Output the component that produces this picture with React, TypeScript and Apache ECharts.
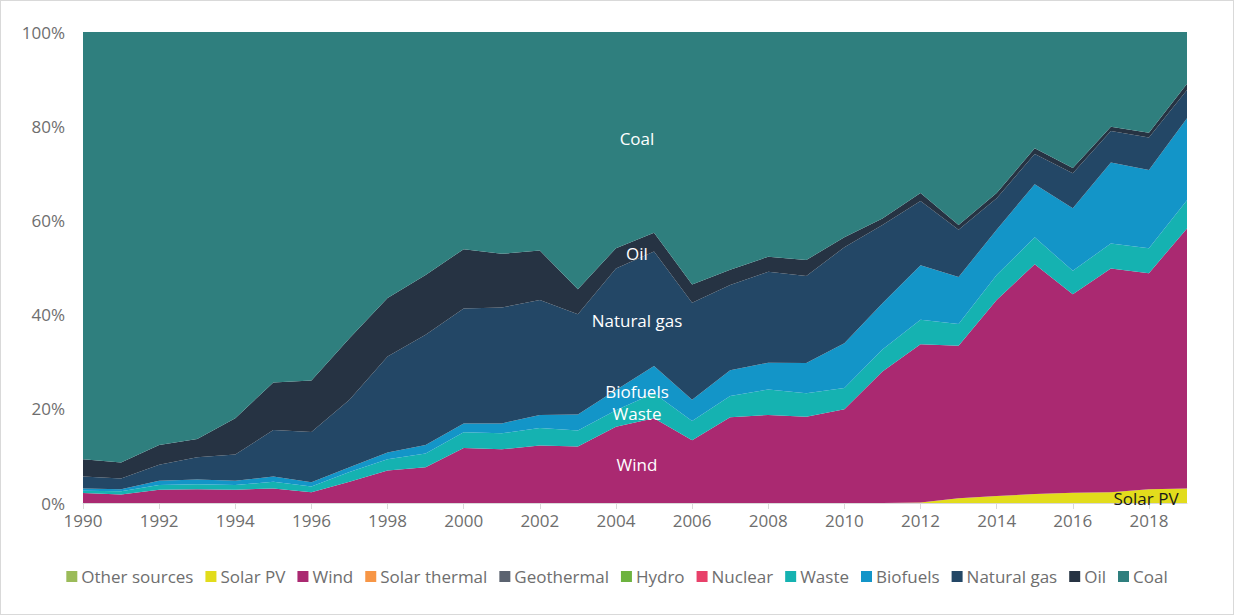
import React, { useEffect, useRef } from "react";
import * as echarts from "echarts";

const years = [
  "1990", "1991", "1992", "1993", "1994", "1995", "1996", "1997", "1998", "1999",
  "2000", "2001", "2002", "2003", "2004", "2005", "2006", "2007", "2008", "2009",
  "2010", "2011", "2012", "2013", "2014", "2015", "2016", "2017", "2018", "2019",
];

// shares of electricity generation (%)
const otherSources = [0, 0, 0, 0, 0, 0, 0, 0, 0, 0, 0, 0, 0, 0, 0, 0, 0, 0, 0, 0, 0, 0, 0, 0, 0, 0, 0, 0, 0, 0];
const solarPV = [0, 0, 0, 0, 0, 0, 0, 0, 0, 0, 0, 0, 0, 0, 0, 0, 0, 0, 0, 0, 0, 0, 0.1, 1.0, 1.5, 1.9, 2.2, 2.3, 2.9, 3.1];
const wind = [2.1, 1.8, 2.8, 2.9, 2.8, 3.1, 2.3, 4.5, 6.9, 7.6, 11.7, 11.4, 12.2, 12.0, 16.2, 18.0, 13.3, 18.2, 18.7, 18.3, 19.9, 27.9, 33.6, 32.4, 41.6, 48.8, 42.1, 47.5, 45.9, 55.2];
const solarThermal = [0, 0, 0, 0, 0, 0, 0, 0, 0, 0, 0, 0, 0, 0, 0, 0, 0, 0, 0, 0, 0, 0, 0, 0, 0, 0, 0, 0, 0, 0];
const geothermal = [0, 0, 0, 0, 0, 0, 0, 0, 0, 0, 0, 0, 0, 0, 0, 0, 0, 0, 0, 0, 0, 0, 0, 0, 0, 0, 0, 0, 0, 0];
const hydro = [0, 0, 0, 0, 0, 0, 0, 0, 0, 0, 0, 0, 0, 0, 0, 0, 0, 0, 0, 0, 0, 0, 0, 0, 0, 0, 0, 0, 0, 0];
const nuclear = [0, 0, 0, 0, 0, 0, 0, 0, 0, 0, 0, 0, 0, 0, 0, 0, 0, 0, 0, 0, 0, 0, 0, 0, 0, 0, 0, 0, 0, 0];
const waste = [0.5, 0.7, 1.0, 1.1, 1.0, 1.4, 1.2, 2.1, 2.4, 2.9, 3.3, 3.4, 3.7, 3.4, 3.5, 5.3, 4.1, 4.5, 5.4, 5.0, 4.5, 4.7, 5.2, 4.6, 5.3, 5.7, 5.0, 5.3, 5.3, 6.0];
const biofuels = [0.5, 0.4, 0.9, 1.0, 0.9, 1.1, 0.9, 1.0, 1.4, 1.8, 1.9, 2.1, 2.8, 3.4, 4.3, 5.8, 4.5, 5.5, 5.7, 6.4, 9.5, 9.8, 11.6, 10.0, 9.6, 11.3, 13.3, 17.2, 16.6, 17.4];
const naturalGas = [2.5, 2.3, 3.4, 4.7, 5.6, 9.9, 10.7, 14.3, 20.4, 23.4, 24.4, 24.6, 24.4, 21.3, 25.8, 24.3, 20.6, 18.1, 19.3, 18.5, 20.4, 16.6, 13.6, 10.0, 6.7, 6.4, 7.4, 6.7, 6.9, 6.0];
const oil = [3.7, 3.4, 4.2, 3.9, 7.7, 10.1, 10.9, 13.1, 12.4, 12.7, 12.6, 11.4, 10.5, 5.3, 4.3, 4.0, 3.9, 3.2, 3.2, 3.4, 2.1, 1.4, 1.7, 1.0, 1.1, 1.2, 1.1, 0.9, 1.0, 1.3];
const coal = [90.7, 91.4, 87.7, 86.4, 82.0, 74.4, 74.0, 65.0, 56.5, 51.6, 46.1, 47.1, 46.4, 54.6, 45.9, 42.6, 53.6, 50.5, 47.7, 48.4, 43.6, 39.6, 34.2, 41.0, 34.2, 24.7, 28.9, 20.1, 21.4, 11.0];

const seriesNames = [
  "Other sources", "Solar PV", "Wind", "Solar thermal", "Geothermal", "Hydro",
  "Nuclear", "Waste", "Biofuels", "Natural gas", "Oil", "Coal",
];
const seriesData = [
  otherSources, solarPV, wind, solarThermal, geothermal, hydro,
  nuclear, waste, biofuels, naturalGas, oil, coal,
];
const seriesColors = [
  "#9BBB59", "#E2DC1C", "#AA2971", "#F79646", "#5B6370", "#6DB33F",
  "#E8416A", "#15B2B1", "#1395C8", "#234766", "#263343", "#2F7F7E",
];
const yTicks = [0, 20, 40, 60, 80, 100];

const FONT = "'Open Sans', 'Noto Sans', sans-serif";
const FS = 17;
const TEXT_GREY = "#6E6E6E";

export default function App() {
  const ref = useRef<HTMLDivElement>(null);

  useEffect(() => {
    document.body.style.margin = "0";
    if (!ref.current) return;
    const chart = echarts.init(ref.current, undefined, { renderer: "svg" });
    const labelStyle = (text: string, x: number, y: number, fill = "#FFFFFF") => ({
      type: "text",
      x,
      y,
      silent: true,
      z: 100,
      style: {
        text,
        fill,
        font: `${FS}px ${FONT}`,
        align: "center",
        verticalAlign: "middle",
      },
    });
    chart.setOption({
      animation: false,
      textStyle: { fontFamily: FONT },
      grid: { left: 82, right: 46, top: 31, bottom: 111, containLabel: false },
      legend: {
        top: 562,
        left: "center",
        icon: "rect",
        itemWidth: 11,
        itemHeight: 11,
        itemGap: 12,
        textStyle: { color: TEXT_GREY, fontSize: FS, fontFamily: FONT, padding: [0, 0, 0, -1] },
        data: seriesNames,
      },
      xAxis: {
        type: "category",
        boundaryGap: false,
        data: years,
        axisLine: { show: true, lineStyle: { color: "#D9D9D9", width: 1 } },
        axisTick: { show: true, interval: 1, length: 6, lineStyle: { color: "#D9D9D9" } },
        axisLabel: { interval: 1, color: TEXT_GREY, fontSize: FS, fontFamily: FONT, margin: 9 },
        splitLine: { show: false },
      },
      yAxis: {
        type: "value",
        min: yTicks[0],
        max: yTicks[yTicks.length - 1],
        interval: 20,
        axisLine: { show: false },
        axisTick: { show: false },
        splitLine: { show: false },
        axisLabel: {
          color: TEXT_GREY,
          fontSize: FS,
          fontFamily: FONT,
          margin: 18,
          formatter: (v: number) => `${v}%`,
        },
      },
      series: seriesNames.map((name, i) => ({
        name,
        type: "line",
        stack: "total",
        data: seriesData[i],
        symbol: "none",
        showSymbol: false,
        lineStyle: { width: 0 },
        areaStyle: { color: seriesColors[i], opacity: 1 },
        itemStyle: { color: seriesColors[i] },
        emphasis: { disabled: true },
      })),
      graphic: [
        labelStyle("Coal", 636, 137),
        labelStyle("Oil", 636, 252),
        labelStyle("Natural gas", 636, 319),
        labelStyle("Biofuels", 636, 390),
        labelStyle("Waste", 636, 412),
        labelStyle("Wind", 636, 463),
        labelStyle("Solar PV", 1145, 497, "#1A1A1A"),
      ],
    });
    return () => chart.dispose();
  }, []);

  return (
    <div
      style={{
        width: 1234,
        height: 615,
        boxSizing: "border-box",
        border: "1px solid #D9D9D9",
        background: "#FFFFFF",
      }}
    >
      <div ref={ref} style={{ width: 1232, height: 613 }} />
    </div>
  );
}
